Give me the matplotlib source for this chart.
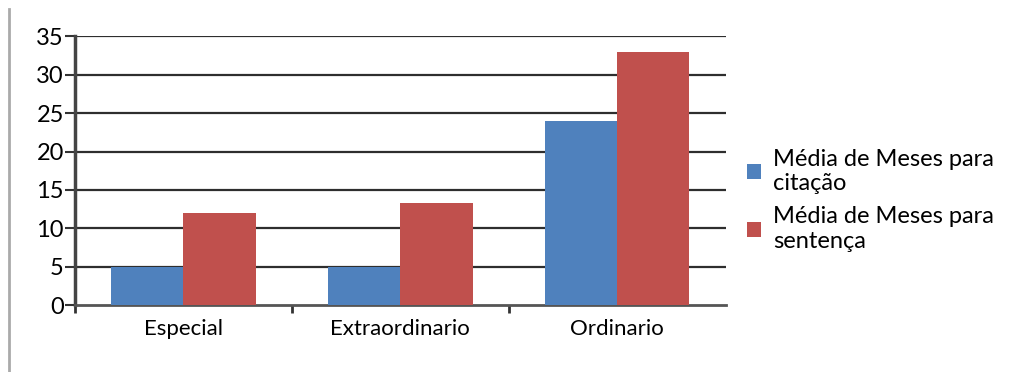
import numpy as np
import matplotlib.pyplot as plt
from matplotlib.lines import Line2D

plt.rcParams['font.family'] = ['Lato', 'DejaVu Sans']

categories = ['Especial', 'Extraordinario', 'Ordinario']
citacao = [5, 5, 24]
sentenca = [12, 13.3, 33]
series_names = ['Média de Meses para\ncitação', 'Média de Meses para\nsentença']
yticks = [0, 5, 10, 15, 20, 25, 30, 35]

blue = '#4f81bd'
red = '#c0504d'

fig = plt.figure(figsize=(10.23, 3.72), dpi=100)
ax = fig.add_axes([0.0733, 0.18, 0.636, 0.722])

x = np.arange(len(categories))
w = 1 / 3
ax.bar(x - w / 2, citacao, w, color=blue, zorder=3, label=series_names[0])
ax.bar(x + w / 2, sentenca, w, color=red, zorder=3, label=series_names[1])

ax.set_xlim(-0.5, len(categories) - 0.5)
ax.set_ylim(0, 35)
ax.set_yticks(yticks)
ax.set_yticklabels([str(v) for v in yticks], fontsize=17)
for v in yticks[1:]:
    ax.axhline(v, color='#2e2e2e', lw=1.6, zorder=1)

# category labels at centres, tick marks between groups
ax.set_xticks(x)
ax.set_xticklabels(categories, fontsize=16)
ax.tick_params(axis='x', length=0, pad=10)
ax.set_xticks(np.arange(len(categories)) - 0.5, minor=True)
ax.tick_params(axis='x', which='minor', length=6, width=2, color='#333333', direction='out')
ax.tick_params(axis='y', length=7, width=1.5, color='#333333', pad=1)

for s in ['top', 'right']:
    ax.spines[s].set_visible(False)
ax.spines['left'].set_color('#444444')
ax.spines['left'].set_linewidth(2.5)
ax.spines['bottom'].set_color('#555555')
ax.spines['bottom'].set_linewidth(2)

ax.legend(loc='center left', bbox_to_anchor=(1.0, 0.39), frameon=False,
          fontsize=17, handlelength=0.6, handleheight=0.6, handletextpad=0.5,
          labelspacing=0.5)

# thin frame line on the left edge of the figure
fig.add_artist(Line2D([0.009, 0.009], [0, 0.975], color='#aaaaaa', lw=2))

fig.savefig('out.png', dpi=100)
